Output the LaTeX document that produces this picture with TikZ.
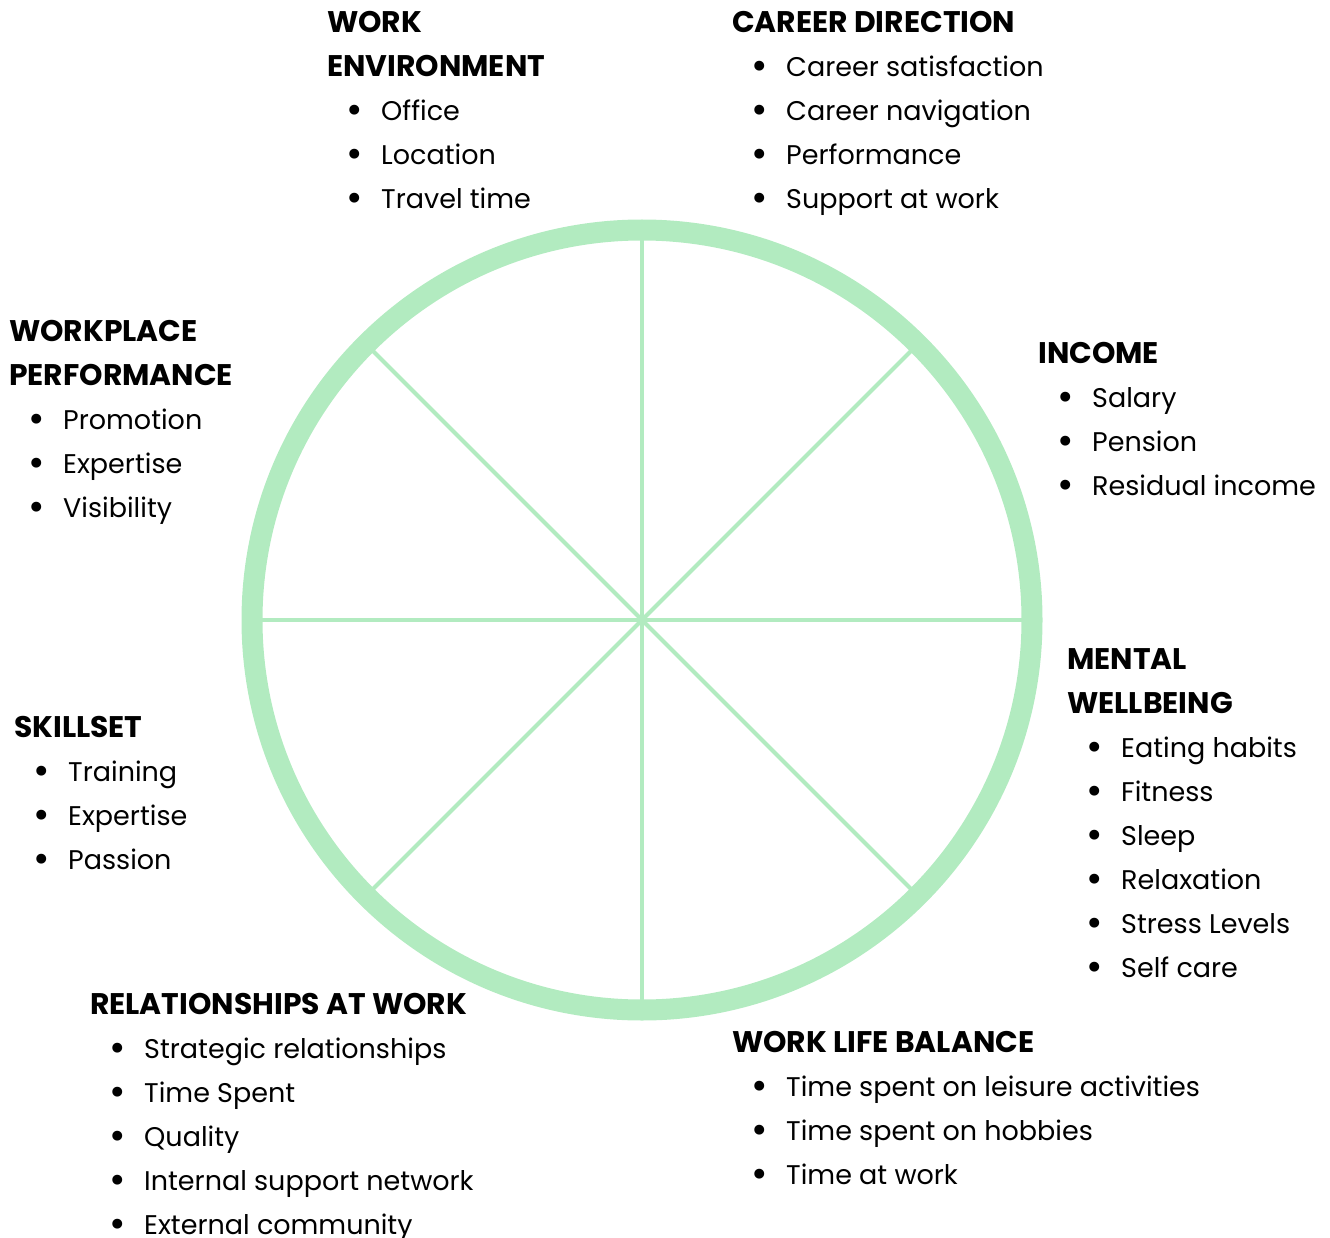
\documentclass[tikz,border=0pt]{standalone}
\usepackage{fontspec}
\setmainfont{Poppins}
\usepackage{tikz}
\usetikzlibrary{calc}

\definecolor{wheelgreen}{RGB}{178,235,192}
\newcommand{\itm}[1]{\hspace*{19pt}\makebox[35pt][l]{\raisebox{-3pt}{\fontsize{40}{44}\selectfont\textbullet}}#1}
\newcommand{\hd}[1]{{\fontsize{29.8}{44}\selectfont\bfseries #1}}

\begin{document}
\begin{tikzpicture}
	[x=1pt,y=-1pt,
	 every node/.style={anchor=base west,inner sep=0pt,align=left,
	   font=\fontsize{27}{44}\selectfont},
	 rim/.style={draw=wheelgreen,line width=21pt},
	 spoke/.style={draw=wheelgreen,line width=4pt}]
	\useasboundingbox (0,0) rectangle (1330,1238);
	\coordinate (hub) at (642,620);
	\foreach \a in {0,45,...,315}
	{\coordinate (r\a) at ($(hub)+(\a:390)$);}
	\foreach \a in {0,45,...,315}
	\draw[spoke] (hub) -- (r\a);
	\draw[rim] (hub) circle (390);
	
	% anchors sit on the baseline of the last line
	\node (env) at (327,209) {\hd{WORK}\\\hd{ENVIRONMENT}\\\itm{Office}\\\itm{Location}\\\itm{Travel time}};
	\node (career) at (732,209) {\hd{CAREER DIRECTION}\\\itm{Career satisfaction}\\\itm{Career navigation}\\\itm{Performance}\\\itm{Support at work}};
	\node (income) at (1038,495) {\hd{INCOME}\\\itm{Salary}\\\itm{Pension}\\\itm{Residual income}};
	\node (mental) at (1067,977) {\hd{MENTAL}\\\hd{WELLBEING}\\\itm{Eating habits}\\\itm{Fitness}\\\itm{Sleep}\\\itm{Relaxation}\\\itm{Stress Levels}\\\itm{Self care}};
	\node (balance) at (732,1184) {\hd{WORK LIFE BALANCE}\\\itm{Time spent on leisure activities}\\\itm{Time spent on hobbies}\\\itm{Time at work}};
	\node (relations) at (90,1234) {\hd{RELATIONSHIPS AT WORK}\\\itm{Strategic relationships}\\\itm{Time Spent}\\\itm{Quality}\\\itm{Internal support network}\\\itm{External community}};
	\node (skills) at (14,869) {\hd{SKILLSET}\\\itm{Training}\\\itm{Expertise}\\\itm{Passion}};
	\node (workplace) at (9,517) {\hd{WORKPLACE}\\\hd{PERFORMANCE}\\\itm{Promotion}\\\itm{Expertise}\\\itm{Visibility}};
\end{tikzpicture}
\end{document}
